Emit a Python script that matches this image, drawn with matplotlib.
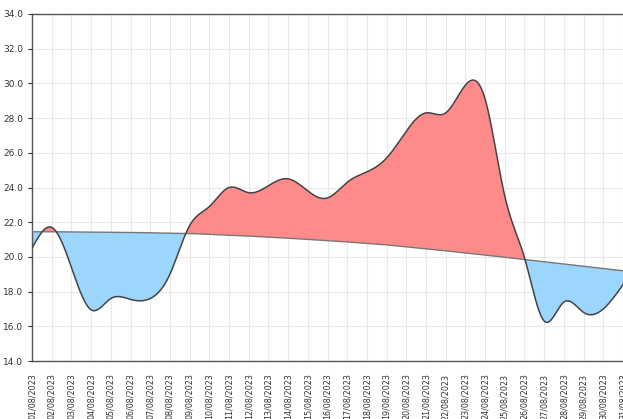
import matplotlib
matplotlib.use("Agg")
import matplotlib.pyplot as plt
import numpy as np

# daily values, August 2023
days = list(range(1, 32))
labels = ["%02d/08/2023" % d for d in days]
temps = [20.5, 21.7, 19.4, 16.95, 17.6, 17.55, 17.6, 19.0, 21.8, 22.9,
         24.0, 23.7, 24.1, 24.5, 23.8, 23.4, 24.3, 24.9, 25.7, 27.25,
         28.3, 28.3, 29.9, 29.1, 23.5, 19.95, 16.3, 17.4, 16.8, 17.0, 18.4]
normal = [21.45, 21.45, 21.44, 21.43, 21.42, 21.41, 21.39, 21.37, 21.35, 21.3,
          21.25, 21.2, 21.14, 21.08, 21.01, 20.94, 20.86, 20.78, 20.69, 20.58,
          20.47, 20.35, 20.23, 20.11, 19.98, 19.85, 19.72, 19.59, 19.46, 19.33, 19.2]


def spline(x, y, xs):
    # natural cubic spline, just for drawing a smooth curve
    x = np.asarray(x, float)
    y = np.asarray(y, float)
    n = len(x)
    h = np.diff(x)
    A = np.zeros((n, n))
    b = np.zeros(n)
    A[0, 0] = 1
    A[-1, -1] = 1
    for i in range(1, n - 1):
        A[i, i - 1] = h[i - 1]
        A[i, i] = 2 * (h[i - 1] + h[i])
        A[i, i + 1] = h[i]
        b[i] = 3 * ((y[i + 1] - y[i]) / h[i] - (y[i] - y[i - 1]) / h[i - 1])
    c = np.linalg.solve(A, b)
    idx = np.clip(np.searchsorted(x, xs) - 1, 0, n - 2)
    dx = xs - x[idx]
    bb = (y[idx + 1] - y[idx]) / h[idx] - h[idx] * (2 * c[idx] + c[idx + 1]) / 3
    dd = (c[idx + 1] - c[idx]) / (3 * h[idx])
    return y[idx] + bb * dx + c[idx] * dx ** 2 + dd * dx ** 3


xs = np.linspace(1, 31, 1500)
ys = spline(days, temps, xs)
bs = spline(days, normal, xs)

fig = plt.figure(figsize=(6.23, 4.19), dpi=100)
ax = fig.add_axes([32 / 623, 58 / 419, 591 / 623, 347 / 419])

ax.fill_between(xs, ys, bs, where=ys >= bs, interpolate=True,
                color="#ff8a8a", linewidth=0, zorder=2)
ax.fill_between(xs, ys, bs, where=ys < bs, interpolate=True,
                color="#9cd6fd", linewidth=0, zorder=2)
ax.plot(xs, bs, color="#777777", linewidth=1.0, zorder=3)
ax.plot(xs, ys, color="#444444", linewidth=1.1, zorder=4)

ax.set_xlim(1, 31)
ax.set_ylim(14, 34)
ax.set_yticks(np.arange(14, 34.1, 2))
ax.set_yticklabels(["%.1f" % v for v in np.arange(14, 34.1, 2)])
ax.set_xticks(days)
ax.set_xticklabels(labels, rotation=90)
ax.tick_params(axis="y", labelsize=6.5, colors="#333333", length=3, width=0.8)
ax.tick_params(axis="x", labelsize=5.8, colors="#333333", length=0, pad=9)
ax.grid(True, color="#e8e8e8", linewidth=0.8, zorder=0)
ax.set_axisbelow(True)
for s in ["left", "bottom", "top"]:
    ax.spines[s].set_color("#555555")
    ax.spines[s].set_linewidth(1.0)
ax.spines["right"].set_visible(False)

fig.savefig("out.png", dpi=100)
